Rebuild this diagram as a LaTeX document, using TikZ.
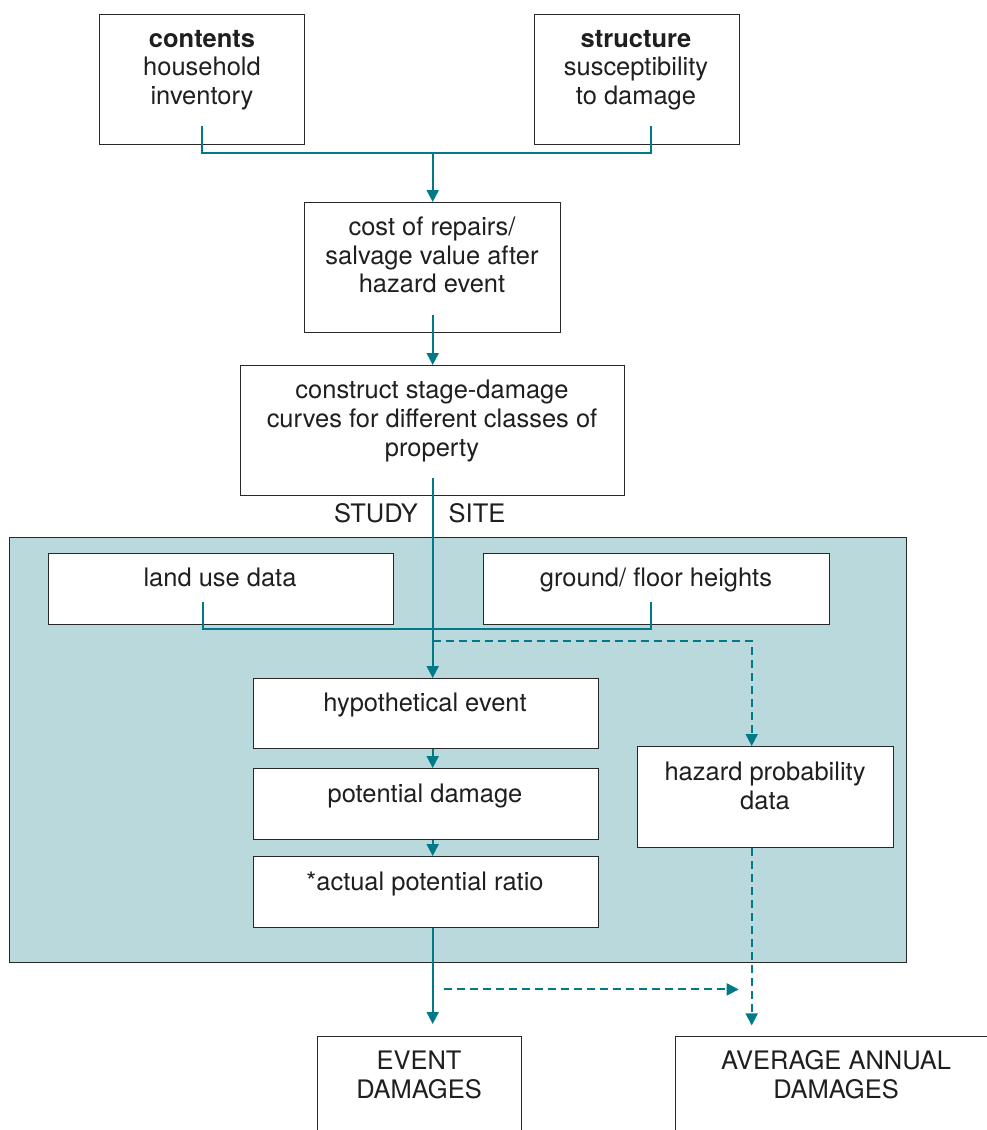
\documentclass[tikz,border=0pt]{standalone}
\usepackage{fontspec}
\setmainfont{TeX Gyre Heros}
\usetikzlibrary{arrows.meta,calc,positioning}
\definecolor{flowteal}{RGB}{0,122,136}
\definecolor{sitefill}{RGB}{186,217,221}
\definecolor{boxgray}{RGB}{40,40,40}

\begin{document}
\begin{tikzpicture}[x=0.02cm, y=-0.02cm,
  box/.style 2 args={draw=boxgray, line width=0.8pt, fill=white, inner sep=0pt, anchor=north west, minimum width=#1*0.02cm, minimum height=#2*0.02cm},
  txt/.style={align=center, inner sep=0pt, text=black!88, font=\fontsize{14.5}{16.4}\selectfont},
  flow/.style={draw=flowteal, line width=1.1pt},
  tip/.style={-{Triangle[width=0.24cm,length=0.24cm]}},
  dashline/.style={dash pattern=on 0.16cm off 0.1cm}]
\useasboundingbox (0,0) rectangle (987,1130);
\clip (0,0) rectangle (987,1130);

% study site band
\node[box={897}{425}, fill=sitefill] (site) at (9,537) {};
\node[txt] (study) at (376,513) {STUDY};
\node[txt] (sitename) at (477,513) {SITE};

% boxes
\node[box={205}{130}] (contents) at (99,14) {};
\node[box={205}{130}] (structure) at (534,14) {};
\node[box={256}{130}] (cost) at (304,202) {};
\node[box={384}{130}] (construct) at (240,365) {};
\node[box={345}{71}] (landuse) at (48,553) {};
\node[box={346}{71}] (ground) at (483,553) {};
\node[box={345}{70}] (hypo) at (253,678) {};
\node[box={345}{71}] (potential) at (253,768) {};
\node[box={345}{71}] (actual) at (253,856) {};
\node[box={256}{101}] (hazard) at (637,746) {};
\node[box={204}{140}] (event) at (317,1036) {};
\node[box={330}{140}] (average) at (675,1036) {};

% texts
\node[txt] (contents-t) at (202,70) {\textbf{contents}\\household\\inventory};
\node[txt] (structure-t) at (636,70) {\textbf{structure}\\susceptibility\\to damage};
\node[txt] (cost-t) at (432,255) {cost of repairs/\\salvage value after\\hazard event};
\node[txt] (construct-t) at (432,421) {construct stage-damage\\curves for different classes of\\property};
\node[txt] (landuse-t) at (220,577) {land use data};
\node[txt] (ground-t) at (656,580) {ground/ floor heights};
\node[txt] (hypo-t) at (425,705) {hypothetical event};
\node[txt] (potential-t) at (425,796) {potential damage};
\node[txt] (actual-t) at (425,884) {*actual potential ratio};
\node[txt] (hazard-t) at (765,786) {hazard probability\\data};
\node[txt] (event-t) at (419,1075) {EVENT\\DAMAGES};
\node[txt] (average-t) at (836,1075) {AVERAGE ANNUAL\\DAMAGES};

\coordinate (trunk) at (construct.south);

% connectors
\draw[flow] ($(contents.south)+(0,-19)$) -- ++(0,27) -| ($(structure.south)+(14,-19)$);
\draw[flow,tip] ($(cost.north)+(0,-50)$) -- (cost.north);
\draw[flow,tip] ($(cost.south)+(0,-18)$) -- (construct.north);
\draw[flow,tip] ($(construct.south)+(0,-18)$) -- (trunk |- hypo.north);
\draw[flow] ($(landuse.south)+(-18,-23)$) -- ++(0,27) -| ($(ground.south)+(-6,-23)$);
\draw[flow,dashline,tip] ($(trunk)+(0,145)$) -| ($(hazard.north)+(-14,0)$);
\draw[flow,tip] (trunk |- hypo.south) -- (trunk |- potential.north);
\draw[flow,tip] (trunk |- potential.south) -- (trunk |- actual.north);
\draw[flow,tip] (trunk |- actual.south) -- ($(trunk |- event.north)+(0,-12)$);
\draw[flow,dashline,tip] ($(trunk |- hazard.south)+(11,141)$) -- ($(hazard.south)+(-27,141)$);
\draw[flow,dashline,tip] ($(hazard.south)+(-14,0)$) -- ++(0,177);
\end{tikzpicture}
\end{document}
